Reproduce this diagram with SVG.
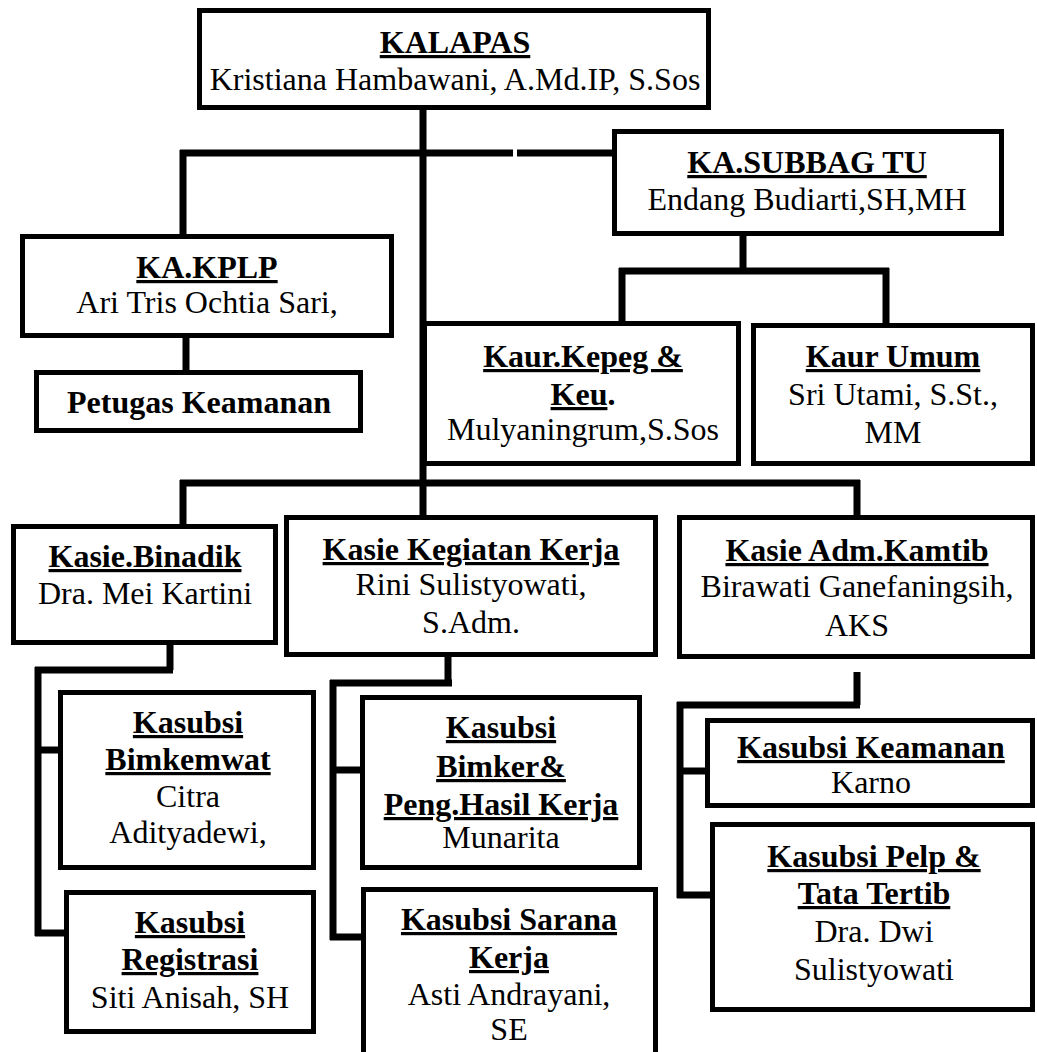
<svg xmlns="http://www.w3.org/2000/svg" width="1037" height="1052" viewBox="0 0 1037 1052">
<style>
.box{fill:#fff;stroke:#000;stroke-width:5}
.ln{fill:none;stroke:#000;stroke-width:7}
text{font-family:"Liberation Serif","Times New Roman",serif;font-size:32px;text-anchor:middle;fill:#000}
.h{font-weight:bold;text-decoration:underline}
.b{font-weight:bold}
</style>
<rect width="1037" height="1052" fill="#fff"/>
<g id="connectors">
<path class="ln" d="M423 110V517"/>
<path class="ln" d="M180 153H513M517 153H614M183 150V236"/>
<path class="ln" d="M186 338V372"/>
<path class="ln" d="M743 236V271M619 271H889M622 268V325M886 268V325"/>
<path class="ln" d="M180 483H860M183 480V526M857 480V517"/>
<path class="ln" d="M170 645V670M35 670H173M38 667V936M35 750H62M35 933H66"/>
<path class="ln" d="M448 657V683M330 683H452M333 680V940M330 770H362M330 937H363"/>
<path class="ln" d="M857 672V705M677 705H860M680 702V898M677 771H707M677 895H712"/>
</g>
<g id="kalapas"><rect class="box" x="199.5" y="10.5" width="509" height="97"/>
<text x="455" y="53" class="h">KALAPAS</text><text x="455" y="90">Kristiana Hambawani, A.Md.IP, S.Sos</text></g>
<g id="subbag"><rect class="box" x="614.5" y="131.5" width="387" height="102"/>
<text x="807" y="173" class="h">KA.SUBBAG TU</text><text x="807" y="210">Endang Budiarti,SH,MH</text></g>
<g id="kplp"><rect class="box" x="22.5" y="236.5" width="369" height="99"/>
<text x="207" y="278" class="h">KA.KPLP</text><text x="207" y="313">Ari Tris Ochtia Sari,</text></g>
<g id="petugas"><rect class="box" x="36.5" y="372.5" width="324" height="58"/>
<text x="199" y="413" class="b">Petugas Keamanan</text></g>
<g id="kepeg"><rect class="box" x="424.5" y="323.5" width="314" height="140"/>
<text x="583" y="367" class="h">Kaur.Kepeg &amp;</text><text x="583" y="405" class="b"><tspan class="h">Keu</tspan>.</text><text x="583" y="440">Mulyaningrum,S.Sos</text></g>
<g id="umum"><rect class="box" x="753.5" y="325.5" width="279" height="138"/>
<text x="893" y="367" class="h">Kaur Umum</text><text x="893" y="405">Sri Utami, S.St.,</text><text x="893" y="443">MM</text></g>
<g id="binadik"><rect class="box" x="13.5" y="526.5" width="262" height="116"/>
<text x="145" y="567" class="h">Kasie.Binadik</text><text x="145" y="604">Dra. Mei Kartini</text></g>
<g id="kegiatan"><rect class="box" x="286.5" y="517.5" width="369" height="137"/>
<text x="471" y="560" class="h">Kasie Kegiatan Kerja</text><text x="471" y="595">Rini Sulistyowati,</text><text x="471" y="633">S.Adm.</text></g>
<g id="kamtib"><rect class="box" x="679.5" y="517.5" width="353" height="139"/>
<text x="857" y="561" class="h">Kasie Adm.Kamtib</text><text x="857" y="597">Birawati Ganefaningsih,</text><text x="857" y="636">AKS</text></g>
<g id="bimkemwat"><rect class="box" x="60.5" y="692.5" width="253" height="175"/>
<text x="188" y="733" class="h">Kasubsi</text><text x="188" y="770" class="h">Bimkemwat</text><text x="188" y="807">Citra</text><text x="188" y="843">Adityadewi,</text></g>
<g id="registrasi"><rect class="box" x="66.5" y="892.5" width="247" height="139"/>
<text x="190" y="933" class="h">Kasubsi</text><text x="190" y="970" class="h">Registrasi</text><text x="190" y="1008">Siti Anisah, SH</text></g>
<g id="bimker"><rect class="box" x="362.5" y="697.5" width="277" height="170"/>
<text x="501" y="738" class="h">Kasubsi</text><text x="501" y="777" class="h">Bimker&amp;</text><text x="501" y="815" class="h">Peng.Hasil Kerja</text><text x="501" y="848">Munarita</text></g>
<g id="sarana"><rect class="box" x="363.5" y="889.5" width="292" height="175"/>
<text x="509" y="930" class="h">Kasubsi Sarana</text><text x="509" y="968" class="h">Kerja</text><text x="509" y="1005">Asti Andrayani,</text><text x="509" y="1040">SE</text></g>
<g id="keamanan"><rect class="box" x="707.5" y="720.5" width="325" height="85"/>
<text x="871" y="758" class="h">Kasubsi Keamanan</text><text x="871" y="793">Karno</text></g>
<g id="pelp"><rect class="box" x="712.5" y="824.5" width="320" height="185"/>
<text x="874" y="867" class="h">Kasubsi Pelp &amp;</text><text x="874" y="904" class="h">Tata Tertib</text><text x="874" y="942">Dra. Dwi</text><text x="874" y="980">Sulistyowati</text></g>
</svg>
